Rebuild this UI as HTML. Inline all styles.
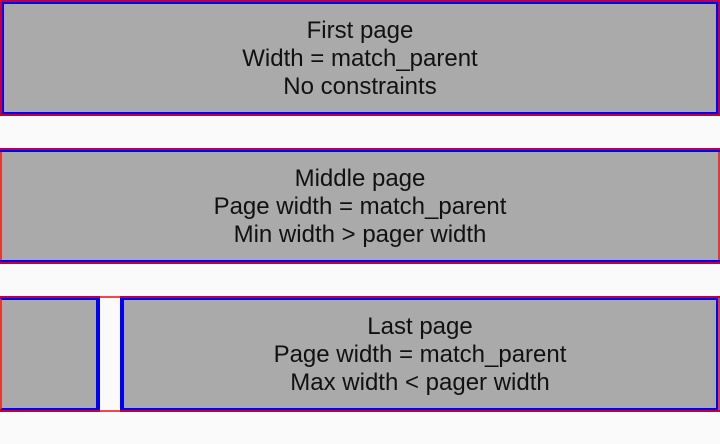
<!DOCTYPE html>
<html><head><style>
body{margin:0;width:720px;height:444px;background:#fafafa;position:relative;overflow:hidden;font-family:"Liberation Sans","DejaVu Sans",sans-serif;}
.b{position:absolute;box-sizing:border-box;}
.t{position:absolute;text-align:center;font-size:24px;line-height:28px;color:#111;}
</style></head><body>
<!-- Panel 1 -->
<div class="b" style="left:0;top:0;width:720px;height:116px;background:#c0003c;"></div>
<div class="b" style="left:2px;top:2px;width:716px;height:112px;background:#aaa;border:2px solid #0000ff;"></div>
<div class="t" style="left:0;width:720px;top:17px;">First page<br>Width = match_parent<br>No constraints</div>

<!-- Panel 2 -->
<div class="b" style="left:0;top:148px;width:720px;height:116px;background:#c0003c;"></div>
<div class="b" style="left:0;top:150px;width:720px;height:112px;background:#0000ff;"></div>
<div class="b" style="left:0;top:152px;width:720px;height:108px;background:#aaa;border-left:2px solid #e53935;border-right:2px solid #e53935;"></div>
<div class="t" style="left:0;width:720px;top:165px;">Middle page<br>Page width = match_parent<br>Min width &gt; pager width</div>

<!-- Panel 3 -->
<div class="b" style="left:0;top:296px;width:720px;height:116px;background:#c0003c;"></div>
<div class="b" style="left:100px;top:296px;width:20px;height:116px;background:#fafafa;border-top:2px solid #f04848;border-bottom:2px solid #f04848;"></div>
<div class="b" style="left:0;top:298px;width:100px;height:112px;background:#aaa;border:2px solid #0000ff;border-left:2px solid #e53935;border-right:4px solid #0000ff;"></div>
<div class="b" style="left:120px;top:298px;width:598px;height:112px;background:#aaa;border:2px solid #0000ff;border-left:4px solid #0000ff;"></div>
<div class="b" style="left:718px;top:298px;width:2px;height:112px;background:#e53935;"></div>
<div class="t" style="left:122px;width:596px;top:313px;">Last page<br>Page width = match_parent<br>Max width &lt; pager width</div>
</body></html>
